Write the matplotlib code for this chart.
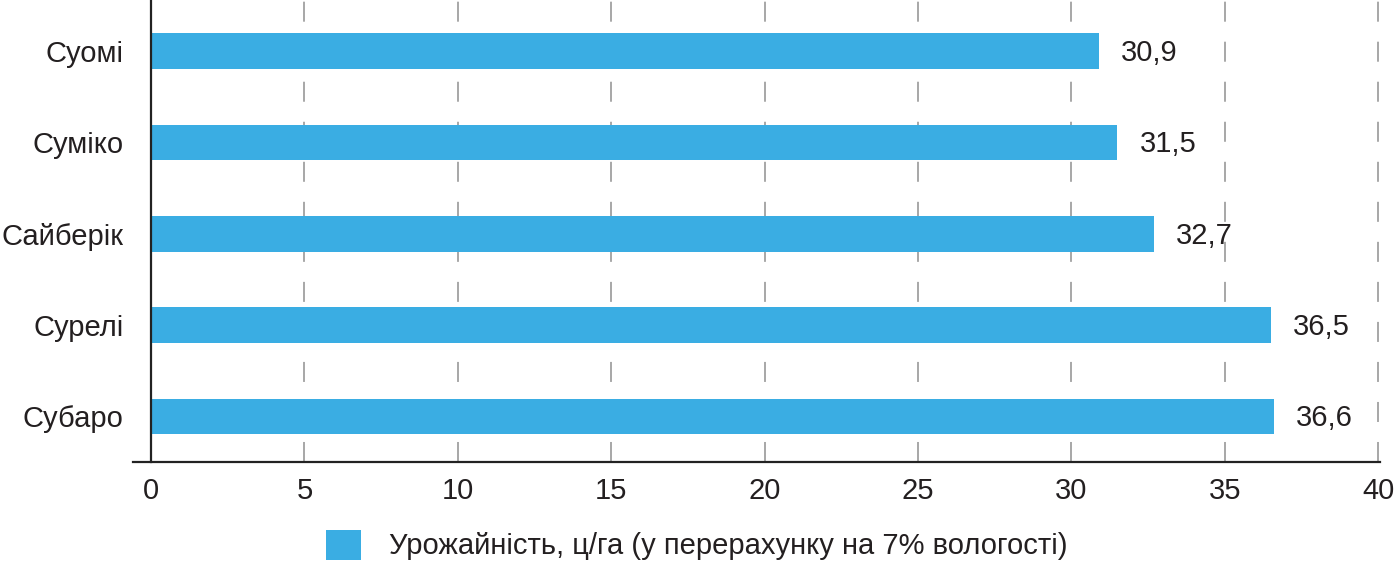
import matplotlib
matplotlib.use('Agg')
import matplotlib.pyplot as plt

plt.rcParams['font.family'] = ['Liberation Sans', 'DejaVu Sans']

# data
varieties = ['Суомі', 'Суміко', 'Сайберік', 'Сурелі', 'Субаро']
yields = [30.9, 31.5, 32.7, 36.5, 36.6]
xticks = [0, 5, 10, 15, 20, 25, 30, 35, 40]
legend_label = 'Урожайність, ц/га (у перерахунку на 7% вологості)'

bar_color = '#3aade3'
text_color = '#231f20'
fs = 21

fig = plt.figure(figsize=(14, 5.65), dpi=100)
ax = fig.add_axes([133/1400, 103/565, (1380-133)/1400, 462/565])

ypos = list(range(len(varieties)))
bars = ax.barh(ypos, yields, height=0.39, color=bar_color, label=legend_label, zorder=3)

# value labels with decimal comma
for y, v in zip(ypos, yields):
    ax.text(v + 0.72, y + 0.02, f'{v:.1f}'.replace('.', ','), va='center', ha='left',
            fontsize=fs, color=text_color)

ax.set_xlim(-0.59, 40.06)
ax.set_ylim(4.5, -0.56)
ax.set_xticks(xticks)
ax.set_yticks(ypos)
ax.set_yticklabels(varieties)
ax.tick_params(axis='both', length=0, labelsize=fs, colors=text_color)
ax.tick_params(axis='x', pad=11)
ax.tick_params(axis='y', pad=20)

ax.spines['top'].set_visible(False)
ax.spines['right'].set_visible(False)
ax.spines['left'].set_position(('data', 0))
for s in ['left', 'bottom']:
    ax.spines[s].set_linewidth(1.6)
    ax.spines[s].set_color('#222222')
    ax.spines[s].set_zorder(4)

ax.grid(axis='x', color='#909090', linewidth=1.1, linestyle=(0, (13.1, 13.1)), zorder=1)
ax.grid(axis='y', visible=False)
ax.set_axisbelow(True)

fig.legend(handles=[bars], labels=[legend_label], loc='center',
           bbox_to_anchor=(697/1400, 20/565), frameon=False, fontsize=fs,
           handlelength=1.2, handleheight=1.2, handletextpad=0.95, labelcolor=text_color)

fig.savefig('out.png', dpi=100)
